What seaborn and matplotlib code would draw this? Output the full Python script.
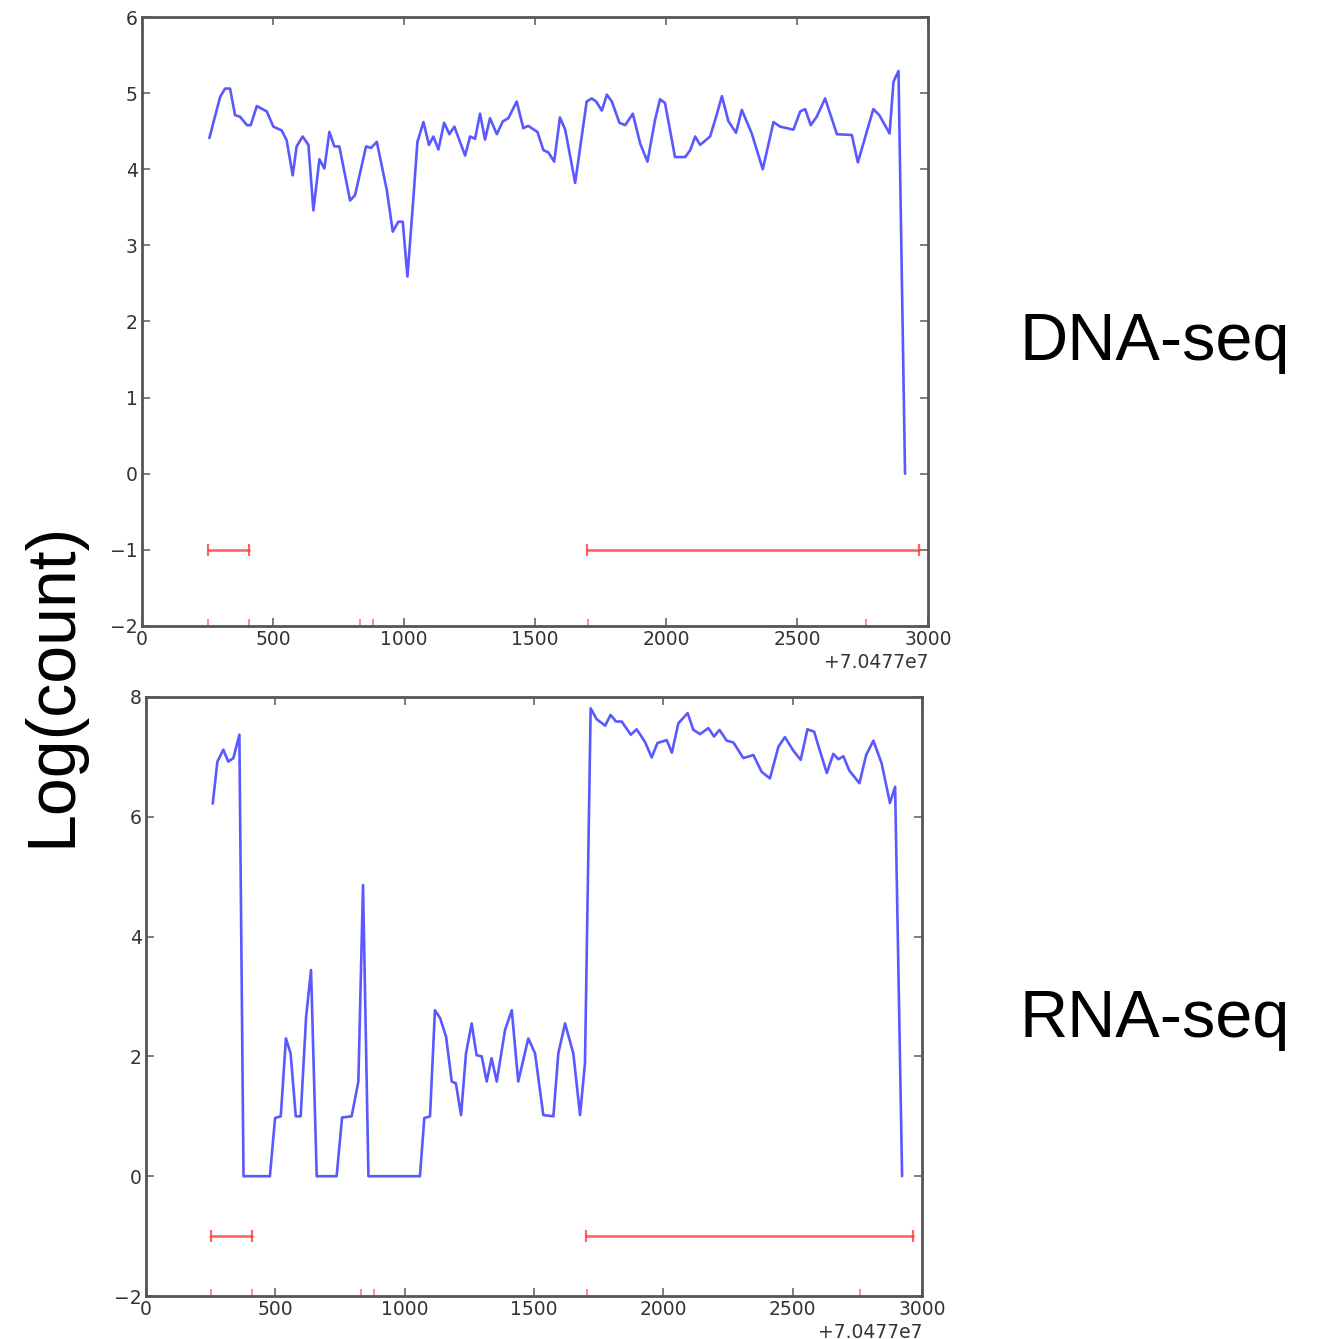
import numpy as np
import pandas as pd
import matplotlib
matplotlib.use("Agg")
import matplotlib.pyplot as plt
import seaborn as sns
from matplotlib.ticker import ScalarFormatter, MultipleLocator

OFFSET = 70477000

dna_x = [257, 298, 317, 336, 355, 374, 400, 415, 438, 476, 501, 533, 552, 575, 590, 613, 635, 654, 677, 696,
         715, 734, 753, 794, 813, 855, 874, 896, 934, 957, 978, 995, 1013, 1036, 1051, 1074, 1095, 1112, 1131, 1153,
         1173, 1192, 1233, 1252, 1271, 1290, 1309, 1328, 1354, 1377, 1398, 1430, 1455, 1474, 1509, 1532, 1551, 1573,
         1595, 1615, 1653, 1697, 1716, 1733, 1755, 1774, 1793, 1822, 1844, 1873, 1901, 1929, 1958, 1977, 1996, 2034,
         2073, 2092, 2111, 2130, 2168, 2191, 2213, 2238, 2267, 2289, 2327, 2369, 2410, 2435, 2486, 2512, 2531, 2552,
         2575, 2607, 2652, 2709, 2732, 2791, 2814, 2853, 2868, 2887, 2912]
dna_y = [4.41, 4.95, 5.06, 5.06, 4.71, 4.69, 4.58, 4.58, 4.83, 4.76, 4.56, 4.51, 4.38, 3.92, 4.30, 4.43, 4.32, 3.46,
         4.13, 4.01, 4.49, 4.30, 4.30, 3.59, 3.66, 4.30, 4.28, 4.36, 3.73, 3.18, 3.31, 3.31, 2.59, 3.64, 4.36, 4.62,
         4.32, 4.43, 4.26, 4.61, 4.46, 4.56, 4.18, 4.43, 4.40, 4.73, 4.39, 4.67, 4.46, 4.63, 4.67, 4.89, 4.54, 4.57,
         4.49, 4.25, 4.22, 4.10, 4.68, 4.52, 3.82, 4.89, 4.93, 4.89, 4.77, 4.98, 4.89, 4.61, 4.58, 4.73, 4.34, 4.10,
         4.65, 4.92, 4.87, 4.16, 4.16, 4.25, 4.43, 4.32, 4.43, 4.69, 4.96, 4.63, 4.48, 4.78, 4.47, 4.00, 4.62, 4.56,
         4.52, 4.76, 4.79, 4.58, 4.69, 4.93, 4.46, 4.45, 4.09, 4.79, 4.71, 4.47, 5.15, 5.29, 0.0]

rna_x = [258, 276, 299, 318, 338, 361, 377, 479, 499, 521, 541, 559, 579, 598, 619, 638, 660, 737, 758, 795,
         821, 839, 860, 1059, 1076, 1098, 1117, 1137, 1160, 1182, 1198, 1218, 1237, 1259, 1278, 1298, 1317, 1336,
         1356, 1388, 1414, 1439, 1478, 1504, 1536, 1575, 1594, 1620, 1652, 1678, 1697, 1719, 1742, 1775, 1796, 1817,
         1839, 1874, 1897, 1929, 1955, 1977, 2013, 2033, 2058, 2094, 2116, 2142, 2174, 2196, 2217, 2245, 2271, 2309,
         2348, 2380, 2412, 2445, 2470, 2503, 2531, 2557, 2583, 2606, 2632, 2657, 2677, 2696, 2719, 2758, 2784, 2812,
         2844, 2876, 2896, 2923]
rna_y = [6.22, 6.92, 7.12, 6.92, 6.98, 7.37, 0, 0, 0.97, 1.0, 2.30, 2.05, 1.0, 1.0, 2.66, 3.44, 0, 0, 0.98, 1.0,
         1.58, 4.86, 0, 0, 0.97, 1.0, 2.77, 2.64, 2.33, 1.58, 1.55, 1.02, 2.05, 2.55, 2.02, 2.0, 1.58, 1.97, 1.58,
         2.44, 2.77, 1.58, 2.30, 2.05, 1.02, 1.0, 2.05, 2.55, 2.05, 1.02, 1.88, 7.81, 7.63, 7.52, 7.70, 7.59, 7.59,
         7.37, 7.46, 7.25, 6.99, 7.23, 7.28, 7.07, 7.56, 7.73, 7.45, 7.38, 7.48, 7.34, 7.45, 7.27, 7.24, 6.98, 7.03,
         6.75, 6.64, 7.17, 7.33, 7.10, 6.95, 7.46, 7.42, 7.09, 6.73, 7.05, 6.96, 7.01, 6.77, 6.56, 7.03, 7.27, 6.89,
         6.23, 6.50, 0]

exon_starts = [252, 1700]
exon_ends = [408, 2965]
exon_level = -1
boundary_ticks = [250, 408, 832, 880, 1703, 2762]

panel_labels = ["DNA-seq", "RNA-seq"]
ylabel = "Log(count)"

sns.set_style("ticks")
plt.rcParams['font.family'] = ['DejaVu Sans']

fig = plt.figure(figsize=(13.2, 13.39), dpi=100)
ax1 = fig.add_axes([0.1076, 0.5325, 0.5955, 0.4548])
ax2 = fig.add_axes([0.1106, 0.0321, 0.5879, 0.4474])

panels = [
    (ax1, dna_x, dna_y, (-2, 6), 1),
    (ax2, rna_x, rna_y, (-2, 8), 2),
]

red = "#ff3b3b"
for ax, xs, ys, ylim, ystep in panels:
    df = pd.DataFrame({"pos": np.array(xs) + OFFSET, "val": ys})
    sns.lineplot(data=df, x="pos", y="val", ax=ax, color="#2a2aff", alpha=0.78,
                 linewidth=1.9, estimator=None, sort=False)
    for s, e in zip(exon_starts, exon_ends):
        ex = pd.DataFrame({"pos": [s + OFFSET, e + OFFSET], "val": [exon_level, exon_level]})
        sns.lineplot(data=ex, x="pos", y="val", ax=ax, color=red, alpha=0.8,
                     linewidth=1.9, estimator=None, sort=False)
        ax.plot(ex["pos"], ex["val"], linestyle="none", marker="|", markersize=9,
                markeredgewidth=1.6, color=red, alpha=0.8)
    ax.plot(np.array(boundary_ticks) + OFFSET, [ylim[0]] * len(boundary_ticks), linestyle="none",
            marker="|", markersize=10, markeredgewidth=1.2, color="#ff5555", alpha=0.8)
    ax.set_xlim(OFFSET, OFFSET + 3000)
    ax.set_ylim(*ylim)
    ax.xaxis.set_major_locator(MultipleLocator(500))
    ax.yaxis.set_major_locator(MultipleLocator(ystep))
    fmt = ScalarFormatter(useOffset=OFFSET)
    ax.xaxis.set_major_formatter(fmt)
    ax.set_xlabel("")
    ax.set_ylabel("")
    ax.tick_params(direction="in", top=True, right=True, length=6, width=1.2,
                   color="#666666", labelcolor="#333333", labelsize=13.5, pad=3)
    ax.xaxis.get_offset_text().set_fontsize(13.5)
    ax.xaxis.get_offset_text().set_color("#333333")
    for sp in ax.spines.values():
        sp.set_visible(True)
        sp.set_color("#555555")
        sp.set_linewidth(2)

fig.text(0.040, 0.489, ylabel, rotation=90, ha="center", va="center", fontsize=49,
         family=["Liberation Sans", "DejaVu Sans"], color="black")
fig.text(0.772, 0.744, panel_labels[0], ha="left", va="center", fontsize=48,
         family=["Liberation Sans", "DejaVu Sans"], color="black")
fig.text(0.772, 0.238, panel_labels[1], ha="left", va="center", fontsize=48,
         family=["Liberation Sans", "DejaVu Sans"], color="black")

fig.savefig("out.png", dpi=100)
